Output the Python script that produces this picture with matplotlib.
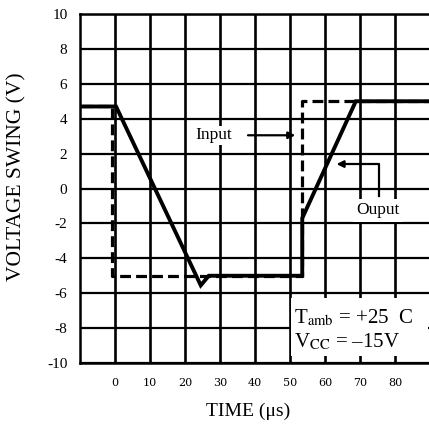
import numpy as np
import matplotlib.pyplot as plt
from matplotlib.patches import Rectangle

plt.rcParams['font.family'] = ['Liberation Serif', 'DejaVu Serif']
plt.rcParams['mathtext.fontset'] = 'stix'

# data
x_ticks = [0, 10, 20, 30, 40, 50, 60, 70, 80]
y_ticks = [-10, -8, -6, -4, -2, 0, 2, 4, 6, 8, 10]

# input (dashed) and output (solid), time in us, voltage in V
input_t = [-9.3, -0.8, -0.8, 53.5, 53.5, 90]
input_v = [4.7, 4.7, -5.0, -5.0, 5.0, 5.0]

output_t = [-9.3, 0.3, 24.5, 26.8, 53.5, 53.5, 68.8, 90]
output_v = [4.7, 4.7, -5.55, -5.0, -5.0, -1.7, 5.0, 5.0]

fig = plt.figure(figsize=(4.29, 4.25), dpi=100)
ax = fig.add_axes([80/429, 62/425, 350/429, 349/425])
ax.set_xlim(-10, 90)
ax.set_ylim(-10, 10)

# grid
for t in x_ticks:
    ax.axvline(t, color='black', lw=1.9, zorder=1)
for v in y_ticks:
    ax.axhline(v, color='black', lw=1.6, zorder=1)

for s in ['left', 'top', 'bottom']:
    ax.spines[s].set_linewidth(1.8)
ax.spines['right'].set_visible(False)

ax.set_xticks(x_ticks)
ax.set_yticks(y_ticks)
ax.set_xticklabels([str(t) for t in x_ticks], family='DejaVu Serif', fontsize=8)
ax.set_yticklabels([str(v) for v in y_ticks], fontsize=11)
ax.tick_params(axis='both', length=0)
ax.tick_params(axis='x', pad=11)
ax.tick_params(axis='y', pad=9)

fig.text(248/429, 1 - 411/425, 'TIME (\u03bcs)', fontsize=14,
         ha='center', va='center')
fig.text(16.5/429, 1 - 177/425, 'VOLTAGE SWING (V)', fontsize=15.5,
         rotation=90, ha='center', va='center')

# curves
inp, = ax.plot(input_t, input_v, color='black', lw=2.3, zorder=3)
inp.set_dashes((3.4, 1.6))
ax.plot(output_t, output_v, color='black', lw=2.8, zorder=4,
        solid_joinstyle='miter')

# annotations
ax.text(28.2, 3.05, 'Input', fontsize=12.5, ha='center', va='center', zorder=5,
        bbox=dict(facecolor='white', edgecolor='none', pad=1))
ax.annotate('', xy=(52.3, 3.05), xytext=(37.2, 3.05),
            arrowprops=dict(arrowstyle='-|>', color='black', lw=1.6,
                            mutation_scale=10), zorder=5)

ax.plot([75.4, 75.4, 66.0], [-0.45, 1.4, 1.4], color='black', lw=1.6, zorder=5)
ax.annotate('', xy=(62.5, 1.4), xytext=(66.5, 1.4),
            arrowprops=dict(arrowstyle='-|>', color='black', lw=1.6,
                            mutation_scale=10), zorder=5)
ax.text(75.2, -1.25, 'Ouput', fontsize=12.5, ha='center', va='center', zorder=5,
        bbox=dict(facecolor='white', edgecolor='none', pad=2.5))

# conditions box
ax.add_patch(Rectangle((50.4, -9.6), 39.0, 3.3, facecolor='white',
                       edgecolor='none', zorder=2))
ax.text(51.2, -7.4, r'T$_{\mathrm{amb}}$ = +25  C', fontsize=15,
        ha='left', va='center', zorder=5)
ax.text(51.2, -8.8, 'V$_{\\mathrm{CC}}$ = \u201315V',
        fontsize=15, ha='left', va='center', zorder=5)

plt.savefig('out.png', dpi=100)
